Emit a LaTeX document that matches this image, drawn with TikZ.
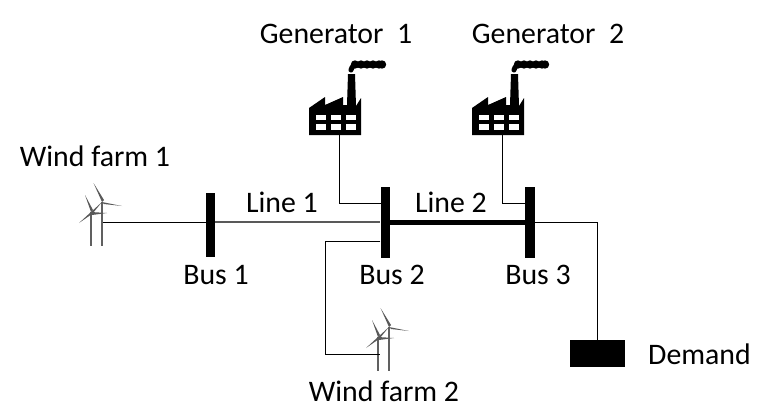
\documentclass[tikz,border=0pt]{standalone}
\usepackage{fontspec}
\setmainfont{Carlito}
\usetikzlibrary{positioning}
\begin{document}
\begin{tikzpicture}[
x=1pt, y=-1pt,
label/.style={font=\fontsize{29.8}{32}\selectfont, inner sep=0pt},
bus/.style={fill=black, minimum width=9pt, inner sep=0pt},
wire/.style={draw=black, line width=0.9pt},
factory/.pic={
  \fill[black] (0,0) -- (0,-27) -- (16,-38) -- (16,-30) -- (34,-38) -- (34,-30) -- (38,-30)
    -- (39,-61) -- (46,-61) -- (47,-29) -- (52,-37) -- (52,0) -- cycle;
  \foreach \i in {0,15,30} {
    \fill[white] (7+\i,-20) rectangle (17+\i,-15);
    \fill[white] (7+\i,-11) rectangle (17+\i,-5);
  }
  \draw[black, line width=5pt, line cap=round, line join=round] (42,-65) .. controls (43,-69) and (45,-70) .. (49,-70)
    .. controls (56,-70) and (64,-70) .. (73,-70);
  \foreach \i in {46,52,58,64,70,73} \fill[black] (\i,-70.5) circle (4.2);
  \coordinate (-base) at (30,0);
},
turbine/.pic={
  \draw[gray!75!black, line width=1.6pt] (11,-44) -- (11,0);
  \draw[gray!75!black, line width=1.6pt] (0,-34) -- (0,0);
  \fill[gray!70!black] (11,-44) -- (2.5,-63) -- (13,-46) -- cycle;
  \fill[gray!70!black] (11,-44) -- (31,-40) -- (13,-42) -- cycle;
  \fill[gray!70!black] (11,-44) -- (0,-34) -- (2,-33) -- cycle;
  \fill[gray!70!black] (0,-34) -- (-6,-51) -- (2,-36) -- cycle;
  \fill[gray!70!black] (0,-34) -- (16,-33) -- (1,-31) -- cycle;
  \fill[gray!70!black] (0,-34) -- (-12,-23) -- (1,-32) -- cycle;
  \coordinate (-tap) at (12,-24);
  \coordinate (-foot) at (2,-17);
}
]
\useasboundingbox (0,0) rectangle (764,415);
\pic (gen1) at (309,135) {factory};
\pic (gen2) at (472,135) {factory};
\pic (wind1) at (91,246) {turbine};
\pic (wind2) at (378,371) {turbine};

\node[bus, minimum height=64pt] (bus1) at (210.5,225) {};
\node[bus, minimum height=71pt] (bus2) at (385,222.5) {};
\node[bus, minimum height=71pt, minimum width=10pt] (bus3) at (530,222.5) {};
\node[fill=black, minimum width=55pt, minimum height=27pt, inner sep=0pt] (demand) at (597.5,353.5) {};

\node[label] (genlabel1) at (336,34) {Generator\ \ 1};
\node[label] (genlabel2) at (548,34) {Generator\ \ 2};
\node[label] (windlabel1) at (95,156) {Wind farm 1};
\node[label] (windlabel2) at (384,391) {Wind farm 2};
\node[label] (buslabel1) at (216,275) {Bus 1};
\node[label] (buslabel2) at (392,275) {Bus 2};
\node[label] (buslabel3) at (538,275) {Bus 3};
\node[label] (linelabel1) at (282,202) {Line 1};
\node[label] (linelabel2) at (451,202) {Line 2};
\node[label] (demandlabel) at (699.5,354) {Demand};

\draw[wire] (wind1-tap) -- (bus1.center |- wind1-tap);
\draw[gray!70!black, line width=1.6pt] (bus1.east |- wind1-tap) -- (bus2.west |- wind1-tap);
\draw[black, line width=5pt] (bus2.east |- wind1-tap) -- (bus3.west |- wind1-tap);
\coordinate (gridr) at (597,222);
\draw[wire] (bus3.east |- gridr) -- (gridr) -- (demand.north -| gridr);
\coordinate (tap1) at (381,203);
\draw[wire] (gen1-base) |- (tap1);
\coordinate (tap2) at (526,203);
\draw[wire] (gen2-base) |- (tap2);
\coordinate (tap3) at (325,241);
\draw[wire] (bus2.west |- tap3) -- (tap3) |- (wind2-foot);
\end{tikzpicture}
\end{document}
